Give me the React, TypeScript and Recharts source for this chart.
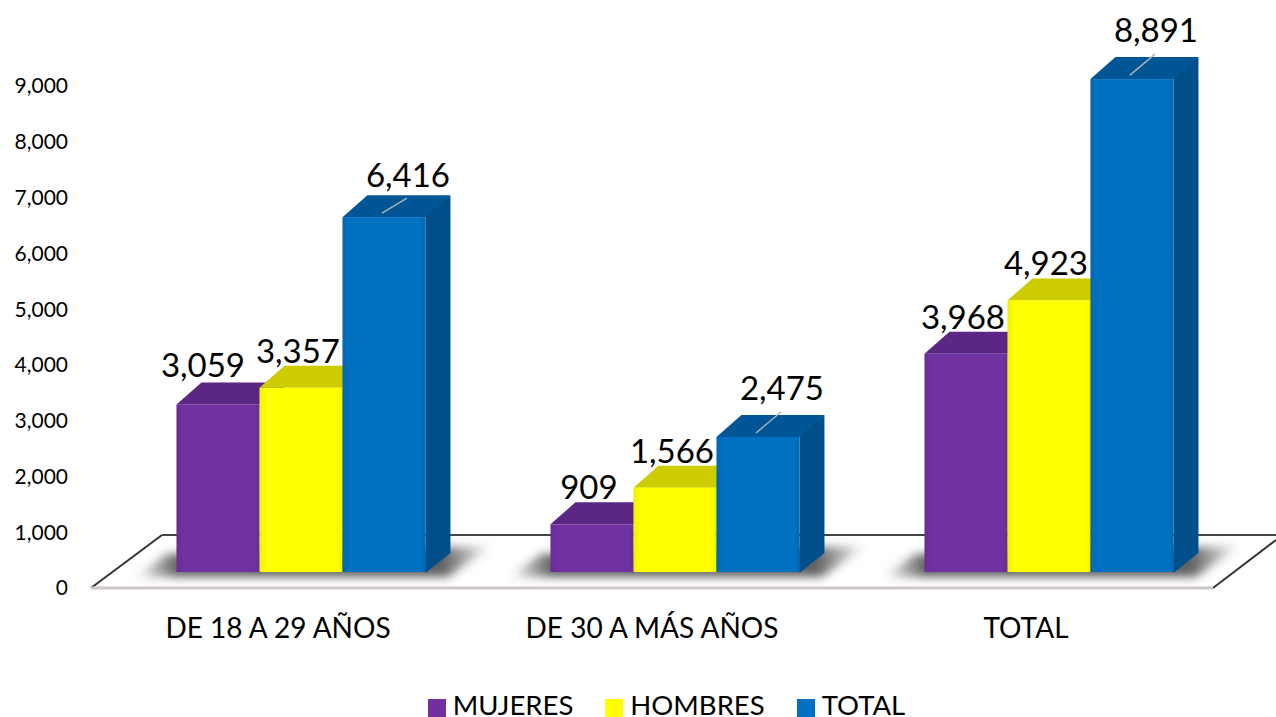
import { BarChart, Bar, XAxis, YAxis, Legend, LabelList, usePlotArea } from "recharts";

const categories = ["DE 18 A 29 AÑOS", "DE 30 A MÁS AÑOS", "TOTAL"];
const mujeres = [3059, 909, 3968];
const hombres = [3357, 1566, 4923];
const total = [6416, 2475, 8891];
const yTicks = [0, 1000, 2000, 3000, 4000, 5000, 6000, 7000, 8000, 9000];

const chartData = categories.map((name, i) => ({
  name,
  mujeres: mujeres[i],
  hombres: hombres[i],
  total: total[i],
}));

const FONT = "Lato, sans-serif";
const COLORS = { mujeres: "#7030a0", hombres: "#ffff00", total: "#0070c0" };
const TOPS = { mujeres: "#5b2685", hombres: "#cccc00", total: "#005597" };
const SIDES = { mujeres: "#4f1f75", hombres: "#b5b500", total: "#024f8a" };

// the bars stand on the floor, further back than the axis plane
const SHIFT_X = 23;
const SHIFT_Y = -15;
const DEPTH_X = 25;
const DEPTH_Y = 20;

function Box3D(props: any, key: "mujeres" | "hombres" | "total") {
  const { x, y, width, height } = props;
  const left = x + SHIFT_X;
  const right = left + width;
  const top = y + SHIFT_Y;
  const bottom = top + height;
  return (
    <g filter="url(#soften)">
      <polygon
        points={`${right},${top} ${right + DEPTH_X},${top - DEPTH_Y} ${right + DEPTH_X},${bottom - DEPTH_Y} ${right},${bottom}`}
        fill={SIDES[key]}
      />
      <polygon
        points={`${left},${top + 2} ${left + DEPTH_X},${top - DEPTH_Y} ${right + DEPTH_X},${top - DEPTH_Y} ${right},${top + 2}`}
        fill={TOPS[key]}
      />
      <rect x={left} y={top + 2} width={width} height={height - 3} fill={`url(#face-${key})`} />
    </g>
  );
}

function ValueLabel(props: any, key: "mujeres" | "hombres" | "total") {
  const { x, y, width, value, index } = props;
  const cx = x + SHIFT_X + width / 2;
  const top = y + SHIFT_Y;
  // blue bars carry a leader line, the others sit just above their top face
  if (key === "total") {
    const rise = index === 0 ? 15 : 21;
    const lift = index === 0 ? 41 : 48;
    return (
      <g>
        <line x1={cx - 2} y1={top - 2} x2={cx + 23} y2={top - 2 - rise} stroke="#b0b0b0" strokeWidth={1.5} />
        <text x={cx + 24} y={top - lift} fill="#000" fontFamily={FONT} fontSize={33} textAnchor="middle" dominantBaseline="central">
          {value.toLocaleString("en-US")}
        </text>
      </g>
    );
  }
  const nudge = key === "mujeres" && index === 0 ? -15 : -3;
  const lift = key === "mujeres" && index === 0 ? 38 : 36;
  return (
    <text x={cx + nudge} y={top - lift} fill="#000" fontFamily={FONT} fontSize={33} textAnchor="middle" dominantBaseline="central">
      {value.toLocaleString("en-US")}
    </text>
  );
}

function Floor() {
  const plot = usePlotArea();
  if (!plot) return null;
  const front = plot.y + plot.height;
  const back = front - 53;
  const x0 = plot.x;
  const x1 = plot.x + plot.width;
  const step = plot.width / categories.length;
  return (
    <g>
      <polygon points={`${x0},${front} ${x0 + 71},${back} ${x1 + 63},${back} ${x1},${front}`} fill="#fff" />
      {categories.map((c, i) => {
        const l = x0 + i * step + 86;
        const r = l + 249;
        return (
          <polygon
            key={c}
            points={`${l - 42},${front - 11} ${l - 10},${front - 34} ${r + 66},${front - 42} ${r + 22},${front - 11}`}
            fill="url(#shadowFade)"
            filter="url(#floorBlur)"
          />
        );
      })}
      <line x1={x0 + 71} y1={back} x2={x1 + 63} y2={back} stroke="#444" strokeWidth={2} />
      <line x1={x0} y1={front} x2={x0 + 71} y2={back} stroke="#333" strokeWidth={2} />
      <line x1={x1} y1={front} x2={x1 + 63} y2={back + 5} stroke="#333" strokeWidth={2} />
      <line x1={x0} y1={front} x2={x1} y2={front} stroke="#cfc8c8" strokeWidth={3} />
    </g>
  );
}

function LegendRow({ payload }: any) {
  return (
    <div style={{ boxSizing: "border-box", display: "flex", justifyContent: "center", alignItems: "center", height: 40, paddingLeft: 120, paddingTop: 16, fontFamily: FONT, fontSize: 27.5, lineHeight: "24px", color: "#000" }}>
      {(payload || []).map((item: any, i: number) => (
        <span key={item.value} style={{ display: "flex", alignItems: "center", marginLeft: i ? 32 : 0 }}>
          <span style={{ width: 18, height: 18, marginRight: 7, marginTop: 5, background: item.color }} />
          {item.value}
        </span>
      ))}
    </div>
  );
}

function FaceGradient({ id, color, edge }: { id: string; color: string; edge: string }) {
  return (
    <linearGradient id={id} x1="0" y1="0" x2="1" y2="0">
      <stop offset="0%" stopColor={edge} />
      <stop offset="8%" stopColor={color} />
      <stop offset="95%" stopColor={color} />
      <stop offset="100%" stopColor={edge} />
    </linearGradient>
  );
}

export default function App() {
  return (
    <div style={{ position: "absolute", left: 0, top: 0, width: 1276, height: 717, background: "#fff" }}>
      <BarChart
        width={1276}
        height={717}
        data={chartData}
        margin={{ top: 86, right: 63, bottom: 0, left: 0 }}
        barCategoryGap="16.7%"
        barGap={0}
      >
        <defs>
          <FaceGradient id="face-mujeres" color={COLORS.mujeres} edge="#6a2c9a" />
          <FaceGradient id="face-hombres" color={COLORS.hombres} edge="#f0f000" />
          <FaceGradient id="face-total" color={COLORS.total} edge="#0068b4" />
          <linearGradient id="shadowFade" x1="0" y1="0" x2="1" y2="0">
            <stop offset="0%" stopColor="#444" stopOpacity={0} />
            <stop offset="12%" stopColor="#444" stopOpacity={0.85} />
            <stop offset="86%" stopColor="#444" stopOpacity={0.85} />
            <stop offset="100%" stopColor="#444" stopOpacity={0} />
          </linearGradient>
          <filter id="floorBlur" x="-20%" y="-50%" width="140%" height="200%">
            <feGaussianBlur stdDeviation="5" />
          </filter>
          <filter id="soften" x="-5%" y="-5%" width="110%" height="110%">
            <feGaussianBlur stdDeviation="0.6" />
          </filter>
        </defs>
        <Floor />
        <XAxis
          dataKey="name"
          axisLine={false}
          tickLine={false}
          tickMargin={24}
          height={89}
          interval={0}
          tick={{ fill: "#000", fontFamily: FONT, fontSize: 28 }}
        />
        <YAxis
          domain={[0, 9000]}
          ticks={yTicks}
          width={91}
          axisLine={false}
          tickLine={false}
          tickSize={0}
          tickMargin={23}
          tickFormatter={(v: number) => v.toLocaleString("en-US")}
          tick={{ fill: "#000", fontFamily: FONT, fontSize: 21 }}
        />
        <Bar dataKey="mujeres" name="MUJERES" fill={COLORS.mujeres} isAnimationActive={false} shape={(p: any) => Box3D(p, "mujeres")}>
          <LabelList dataKey="mujeres" content={(p: any) => ValueLabel(p, "mujeres")} />
        </Bar>
        <Bar dataKey="hombres" name="HOMBRES" fill={COLORS.hombres} isAnimationActive={false} shape={(p: any) => Box3D(p, "hombres")}>
          <LabelList dataKey="hombres" content={(p: any) => ValueLabel(p, "hombres")} />
        </Bar>
        <Bar dataKey="total" name="TOTAL" fill={COLORS.total} isAnimationActive={false} shape={(p: any) => Box3D(p, "total")}>
          <LabelList dataKey="total" content={(p: any) => ValueLabel(p, "total")} />
        </Bar>
        <Legend verticalAlign="bottom" height={40} itemSorter={null} content={(p: any) => <LegendRow payload={p.payload} />} />
      </BarChart>
    </div>
  );
}
